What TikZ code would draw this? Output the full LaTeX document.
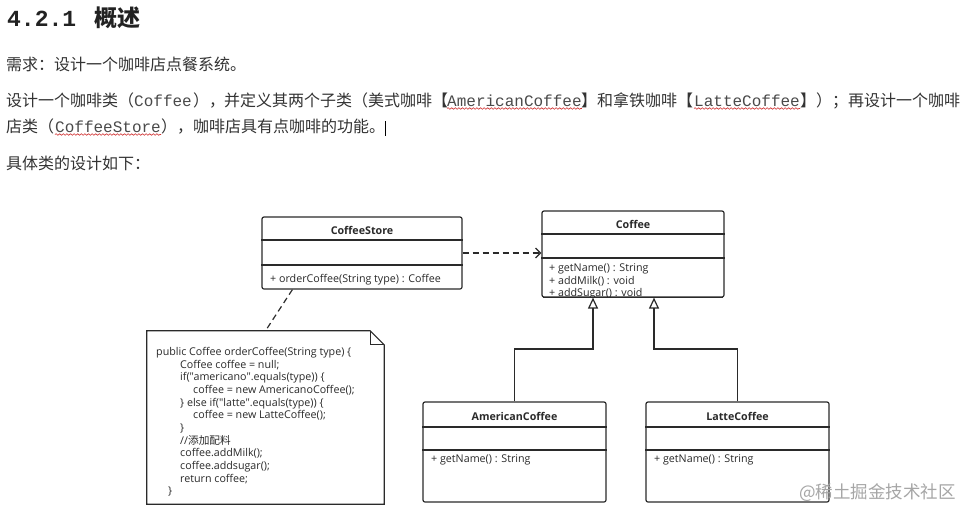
\documentclass[tikz,border=0pt]{standalone}
\usepackage{fontspec}
\setmainfont{Noto Sans CJK SC}
\newfontfamily\cjk{Noto Sans CJK SC}
\newfontfamily\monof{Liberation Mono}
\newfontfamily\diag{Open Sans}
\usetikzlibrary{arrows.meta,decorations.pathmorphing,calc}
\definecolor{txt}{HTML}{333333}
\definecolor{monotxt}{HTML}{4A4A4A}
\definecolor{ttl}{HTML}{222222}
\definecolor{ln}{HTML}{2A2A2A}
\definecolor{wavered}{HTML}{D03030}
\tikzset{
  body/.style={anchor=base west, inner sep=0, font=\cjk\fontsize{16}{16}\selectfont, text=txt},
  mono/.style={anchor=base west, inner sep=0, font=\monof\fontsize{16}{16}\selectfont, text=monotxt},
  wavy/.style={draw=wavered, line width=0.6, decorate, decoration={snake, amplitude=0.8, segment length=3.6}},
  cls/.style={draw=ln, line width=1.2, rounded corners=2, fill=white, inner sep=0},
  sepline/.style={draw=ln, line width=1.2},
  ctitle/.style={anchor=base, inner sep=0, font=\diag\bfseries\fontsize{10.7}{11}\selectfont, text=ln},
  cmeth/.style={anchor=base west, inner sep=0, font=\diag\fontsize{10.7}{11}\selectfont, text=ln},
  dep/.style={draw=ln, line width=1.2, dash pattern=on 6 off 4, -{Straight Barb[length=5, width=10, line width=1.2]}},
  gen/.style={draw=ln, line width=1.2, -{Triangle[open, length=11, width=10, line width=1.2]}},
  notelink/.style={draw=ln, line width=1.2, dash pattern=on 6 off 4}
}
\begin{document}
\begin{tikzpicture}[x=1pt,y=-1pt]
\useasboundingbox[fill=white] (0,0) rectangle (963,509);

% heading and paragraph
\node[anchor=base west, inner sep=0, font=\monof\bfseries\fontsize{23}{23}\selectfont, text=ttl] (t1) at (7,26) {4.2.1};
\node[anchor=base west, inner sep=0, font=\cjk\bfseries\fontsize{23}{23}\selectfont, text=ttl] (t2) at (94,26) {概述};

\node[body] (l1) at (6,70) {需求：设计一个咖啡店点餐系统。};

\node[body] (a1) at (6,106) {设计一个咖啡类};
\node[body] (a2) at (118,106) {（};
\node[mono] (a3) at (134,106) {Coffee};
\node[body] (a4) at (193,106) {），};
\node[body] (a5) at (224,106) {并定义其两个子类（美式咖啡【};
\node[mono] (a6) at (447,106) {AmericanCoffee};
\node[body] (a7) at (581,106) {】和拿铁咖啡【};
\node[mono] (a8) at (694,106) {LatteCoffee};
\node[body] (a9) at (800,106) {】）；再设计一个咖啡};

\node[body] (b1) at (6,132) {店类};
\node[body] (b2) at (38,132) {（};
\node[mono] (b3) at (55,132) {CoffeeStore};
\node[body] (b4) at (161,132) {），};
\node[body] (b5) at (193,132) {咖啡店具有点咖啡的功能。};
\draw[line width=0.8, black] (385,121) -- (385,136);

\node[body] (l4) at (6,169) {具体类的设计如下：};

\draw[wavy] ([yshift=-2.5]a6.base west) -- ([yshift=-2.5]a6.base east);
\draw[wavy] ([yshift=-2.5]a8.base west) -- ([yshift=-2.5]a8.base east);
\draw[wavy] ([yshift=-2.5]b3.base west) -- ([yshift=-2.5]b3.base east);

% class CoffeeStore
\node[cls, minimum width=200, minimum height=72] (store) at (362,253) {};
\draw[sepline] (store.west |- 0,240) -- (store.east |- 0,240);
\draw[sepline] (store.west |- 0,265) -- (store.east |- 0,265);
\node[ctitle] (st) at (362,234) {CoffeeStore};
\node[cmeth] (sm) at (270,282) {+ orderCoffee(String type) : Coffee};

% class Coffee
\node[cls, minimum width=182, minimum height=86] (coffee) at (633,254) {};
\draw[sepline] (coffee.west |- 0,234) -- (coffee.east |- 0,234);
\draw[sepline] (coffee.west |- 0,258) -- (coffee.east |- 0,258);
\node[ctitle] (ct) at (633,228) {Coffee};
\begin{scope}
\clip (coffee.north west) rectangle (coffee.south east);
\node[cmeth] (cm1) at (549,271) {+ getName() : String};
\node[cmeth] (cm2) at (549,284) {+ addMilk() : void};
\node[cmeth] (cm3) at (549,296.5) {+ addSugar() : void};
\end{scope}
\draw[sepline] ([xshift=2]coffee.south west) -- ([xshift=-2]coffee.south east);

% class AmericanCoffee
\node[cls, minimum width=183, minimum height=100] (amer) at (514.5,452) {};
\draw[sepline] (amer.west |- 0,427) -- (amer.east |- 0,427);
\draw[sepline] (amer.west |- 0,450) -- (amer.east |- 0,450);
\node[ctitle] (at) at (514.5,420) {AmericanCoffee};
\node[cmeth] (am) at (431,462) {+ getName() : String};

% class LatteCoffee
\node[cls, minimum width=183, minimum height=100] (latte) at (737.5,452) {};
\draw[sepline] (latte.west |- 0,427) -- (latte.east |- 0,427);
\draw[sepline] (latte.west |- 0,450) -- (latte.east |- 0,450);
\node[ctitle] (lt) at (737.5,420) {LatteCoffee};
\node[cmeth] (lm) at (654,462) {+ getName() : String};

% note
\node[inner sep=0, minimum width=237, minimum height=173] (note) at (265.5,417.5) {};
\draw[ln, line width=1.2, fill=white]
  (note.north west) -- ([xshift=-14]note.north east) -- ([yshift=-14]note.north east)
  -- (note.south east) -- (note.south west) -- cycle;
\draw[ln, line width=1.2] ([xshift=-14]note.north east) -- ([xshift=-14,yshift=-14]note.north east) -- ([yshift=-14]note.north east);

\node[cmeth] (n0) at (156,355.6) {public Coffee orderCoffee(String type) \{};
\node[cmeth] (n1) at (180,368.2) {Coffee coffee = null;};
\node[cmeth] (n2) at (180,380.9) {if("americano".equals(type)) \{};
\node[cmeth] (n3) at (193,393.5) {coffee = new AmericanoCoffee();};
\node[cmeth] (n4) at (180,406.2) {\} else if("latte".equals(type)) \{};
\node[cmeth] (n5) at (193,418.8) {coffee = new LatteCoffee();};
\node[cmeth] (n6) at (180,431.4) {\}};
\node[cmeth] (n7) at (180,444.1) {//{\cjk 添加配料}};
\node[cmeth] (n8) at (180,456.7) {coffee.addMilk();};
\node[cmeth] (n9) at (180,469.4) {coffee.addsugar();};
\node[cmeth] (n10) at (180,482.0) {return coffee;};
\node[cmeth] (n11) at (168,494.6) {\}};

% connectors
\draw[dep] (store.east) -- (store.east -| coffee.west);
\coordinate (g1) at ([xshift=-40]coffee.south);
\coordinate (g2) at ([xshift=21]coffee.south);
\draw[gen] (amer.north) -- (amer.north |- 0,349) -| (g1);
\draw[gen] (latte.north) -- (latte.north |- 0,349) -| (g2);
\coordinate (s1) at ([xshift=31]store.south west);
\draw[notelink] (s1) -- (note.north);

% watermark
\node[anchor=base east, inner sep=0, font=\cjk\fontsize{17.5}{17.5}\selectfont, text=black!35] (wm) at (956,498) {@稀土掘金技术社区};
\end{tikzpicture}
\end{document}
